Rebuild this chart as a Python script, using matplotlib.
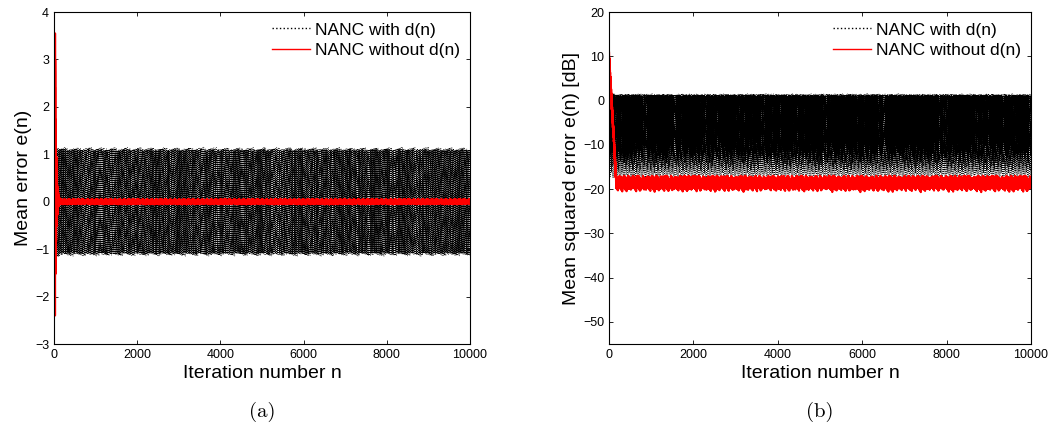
import numpy as np
import matplotlib.pyplot as plt

# values
n_iter = 10000
xticks = [0, 2000, 4000, 6000, 8000, 10000]

# panel (a): mean error e(n)
with_dn_amp = 1.15          # half width of the black band
with_dn_start = 1.4         # black spikes just after start
with_dn_freq = 0.0867       # oscillation (cycles / iteration)
without_dn_peaks = [3.55, -2.4]   # red transient extremes
without_dn_peak_at = 25     # iteration of the red spike
without_dn_decay = 25.0     # iterations
without_dn_ripple = 0.06    # red steady-state half width
a_ylim = [-3, 4]

# panel (b): mean squared error [dB]
mse_with_top = 1.5          # top of black band (dB)
mse_with_bottom = -17.5     # bottom of black band (dB)
mse_floor_spread = [-21.5, -17.0]   # red steady band (dB)
mse_start = 11.0            # red value at n = 0
mse_settle = 170            # iterations to reach the floor
b_ylim = [-55, 20]

labels = ['NANC with d(n)', 'NANC without d(n)']

plt.rcParams['font.family'] = ['Liberation Sans', 'DejaVu Sans']

n = np.arange(0, n_iter + 1)
# deterministic jitter in [-1, 1]
jit = 2 * (((n * 0.6180339887) % 1 + (n * 0.7548776662) % 1) / 2) - 1
jit2 = 2 * ((n * 0.5698402910) % 1) - 1

wave = np.sin(2 * np.pi * with_dn_freq * n + 0.3) * (0.97 + 0.03 * jit2)
start_boost = 1 + (with_dn_start / with_dn_amp - 1) * np.exp(-n / 40.0)
e_with = with_dn_amp * start_boost * wave

env = np.exp(-np.abs(n - without_dn_peak_at) / without_dn_decay)
sign = np.where(n % 2 == 0, 1.0, -1.0)
amp = np.where(sign > 0, without_dn_peaks[0], -without_dn_peaks[1])
e_without = sign * amp * env * (0.55 + 0.45 * np.abs(jit2)) + without_dn_ripple * jit
e_without[without_dn_peak_at] = without_dn_peaks[0] if without_dn_peak_at % 2 == 0 else without_dn_peaks[1]
e_without[without_dn_peak_at + 1] = without_dn_peaks[1] if without_dn_peak_at % 2 == 0 else without_dn_peaks[0]

mid = (mse_floor_spread[0] + mse_floor_spread[1]) / 2
half = (mse_floor_spread[1] - mse_floor_spread[0]) / 2
red_db = mid + 0.6 + half * jit * np.abs(jit2) ** 0.5
red_db = np.clip(red_db, mse_floor_spread[0], mse_floor_spread[1])
trans = mse_start - (mse_start - mse_floor_spread[1]) * n / mse_settle
red_db = np.maximum(red_db, np.where(n < mse_settle, trans - 3 * np.abs(jit), -100))
red_db[0:3] = mse_start

black_db = 10 * np.log10((10 ** (mse_with_top / 20) * start_boost * wave) ** 2
                         + 10 ** (mse_with_bottom / 10))

fig = plt.figure(figsize=(10.53, 4.4), dpi=100)
ax1 = fig.add_axes([54 / 1053, 96 / 440, 416 / 1053, 332 / 440])
ax2 = fig.add_axes([609 / 1053, 96 / 440, 422 / 1053, 332 / 440])

dots = (0, (1, 2))
ax1.plot(n, e_with, linestyle=dots, color='black', lw=0.5, label=labels[0])
ax1.plot(n, e_without, '-', color='red', lw=1.5, label=labels[1])
ax1.set_ylim(a_ylim)
ax1.set_yticks(range(a_ylim[0], a_ylim[1] + 1))
ax1.set_ylabel('Mean error e(n)', fontsize=14, labelpad=2)

ax2.plot(n, black_db, linestyle=dots, color='black', lw=0.5, label=labels[0])
ax2.plot(n, red_db, '-', color='red', lw=1.5, label=labels[1])
ax2.set_ylim(b_ylim)
ax2.set_yticks(range(-50, 21, 10))
ax2.set_ylabel('Mean squared error e(n) [dB]', fontsize=14, labelpad=2)

for ax, cap in ((ax1, '(a)'), (ax2, '(b)')):
    ax.set_xlim(0, n_iter)
    ax.set_xticks(xticks)
    ax.set_xlabel('Iteration number n', fontsize=14, labelpad=3)
    ax.tick_params(direction='in', top=True, right=True, labelsize=9, length=3, width=0.6)
    for s in ax.spines.values():
        s.set_linewidth(0.8)
    leg = ax.legend(loc='upper right', frameon=False, fontsize=12.5, handlelength=2.2,
                    handletextpad=0.25, borderaxespad=0.2, labelspacing=0.3)
    for h in leg.get_lines():
        h.set_linewidth(1.0)
        h.set_linestyle(':' if h.get_color() == 'black' else '-')
    ax.text(0.5, -0.205, cap, transform=ax.transAxes, ha='center', va='center',
            fontsize=15, family='cmr10')

fig.savefig('out.png', dpi=100)
